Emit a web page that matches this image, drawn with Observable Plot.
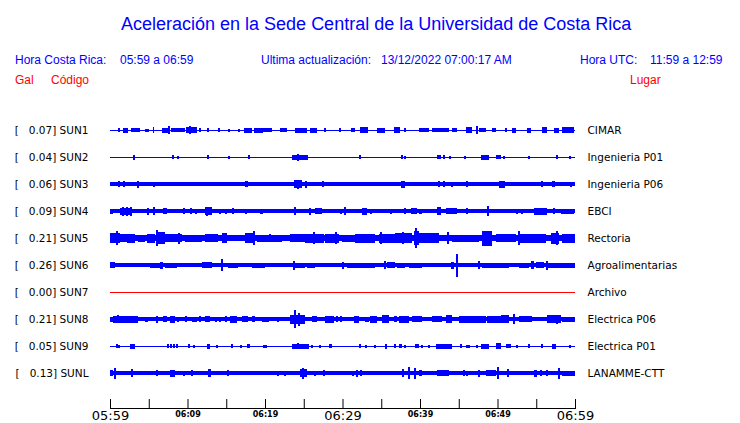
<!DOCTYPE html>
<html><head><meta charset="utf-8">
<script src="https://cdn.jsdelivr.net/npm/d3@7"></script>
<script src="https://cdn.jsdelivr.net/npm/@observablehq/plot@0.6"></script>
<style>
body{margin:0;background:#fff;}
#wrap{position:relative;width:740px;height:423px;overflow:hidden;font-family:"Liberation Sans",Arial,sans-serif;}
.t{position:absolute;white-space:pre;line-height:12px;font-size:12px;}
.blue{color:#0000ff}.red{color:#ff0000}
#chart{position:absolute;left:0;top:99px;}
</style></head><body>
<div id="wrap">
 <div class="t blue" style="top:15px;left:121px;font-size:18px;line-height:18px;">Aceleración en la Sede Central de la Universidad de Costa Rica</div>
 <div class="t blue" style="top:54px;left:15px;">Hora Costa Rica:</div>
 <div class="t blue" style="top:54px;left:120px;">05:59 a 06:59</div>
 <div class="t blue" style="top:54px;left:261px;">Ultima actualización:</div>
 <div class="t blue" style="top:54px;left:381px;">13/12/2022 07:00:17 AM</div>
 <div class="t blue" style="top:54px;left:580px;">Hora UTC:</div>
 <div class="t blue" style="top:54px;left:650px;">11:59 a 12:59</div>
 <div class="t red" style="top:74px;left:15px;">Gal</div>
 <div class="t red" style="top:74px;left:51px;">Código</div>
 <div class="t red" style="top:74px;left:630px;">Lugar</div>
 <div id="chart"></div>
</div>
<script>
// ---- data (minutes after 05:59, amplitudes in Gal) ----
const stations = ["SUN1","SUN2","SUN3","SUN4","SUN5","SUN6","SUN7","SUN8","SUN9","SUNL"];
const peakGal = [0.07,0.04,0.06,0.09,0.21,0.26,0.00,0.21,0.05,0.13];
const places = ["CIMAR","Ingenieria P01","Ingenieria P06","EBCI","Rectoria","Agroalimentarias","Archivo","Electrica P06","Electrica P01","LANAMME-CTT"];
const baseGal = [0.01,0.01,0.04,0.035,0.06,0.035,0,0.045,0.01,0.045];
const traceColor = ["#0000ff","#0000ff","#0000ff","#0000ff","#0000ff","#0000ff","#ff0000","#0000ff","#0000ff","#0000ff"];
const traceSpan = [0, 60];

const tickMinutes = [0,5,10,15,20,25,30,35,40,45,50,55,60];
const majorTicks = [0,30,60];
const majorLabels = ["05:59","06:29","06:59"];
const minorTicks = [10,20,40,50];
const minorLabels = ["06:09","06:19","06:39","06:49"];

// [start minute, end minute, half amplitude Gal]
const sun1Events = [[1.16,1.16,0.04],[1.68,2.32,0.05],[2.71,3.87,0.04],[4.52,4.52,0.03],[4.90,4.90,0.03],[5.55,5.68,0.06],[6.71,7.48,0.05],[7.61,7.61,0.08],[7.87,9.68,0.04],[9.81,11.23,0.06],[10.32,10.32,0.08],[11.48,11.74,0.04],[12.52,12.52,0.04],[13.94,13.94,0.04],[15.23,15.23,0.03],[16.52,16.52,0.03],[17.29,18.32,0.05],[18.58,19.74,0.05],[19.61,20.90,0.04],[21.94,22.84,0.04],[23.87,25.42,0.05],[25.81,26.71,0.05],[27.74,27.74,0.04],[29.55,29.55,0.04],[31.10,31.61,0.04],[32.26,33.29,0.06],[34.45,35.48,0.05],[36.65,37.42,0.06],[37.94,37.94,0.04],[39.87,41.16,0.04],[41.55,43.74,0.04],[44.13,44.77,0.04],[45.94,46.71,0.06],[47.35,47.35,0.08],[47.61,48.52,0.04],[49.29,49.81,0.04],[50.97,51.23,0.04],[51.87,52.39,0.05],[53.81,54.32,0.05],[55.74,56.39,0.06],[57.29,57.94,0.05],[58.32,59.87,0.06]];
const sun2Events = [[2.97,2.97,0.05],[8.0,8.0,0.04],[8.77,8.77,0.03],[12.52,12.52,0.04],[15.35,15.35,0.03],[17.81,17.81,0.04],[23.48,25.55,0.05],[24.13,24.13,0.07],[32.13,32.13,0.04],[37.55,37.55,0.04],[38.06,38.06,0.03],[42.19,42.71,0.04],[42.97,42.97,0.04],[43.87,43.87,0.03],[45.68,45.68,0.03],[47.87,48.90,0.05],[49.81,50.45,0.04],[50.71,50.71,0.03],[54.06,54.06,0.03],[57.55,57.55,0.04],[59.23,59.23,0.03]];
const sun3Events = [[1.16,1.16,0.06],[1.68,1.68,0.06],[3.61,3.61,0.07],[5.55,5.55,0.05],[17.42,17.81,0.06],[23.74,24.77,0.08],[24.13,24.13,0.09],[25.29,25.29,0.07],[27.48,27.48,0.06],[37.55,38.06,0.07],[42.45,42.45,0.06],[42.97,42.97,0.06],[44.0,44.0,0.05],[46.06,46.06,0.06],[50.19,50.97,0.07],[55.74,55.74,0.06],[57.03,57.42,0.06],[59.48,59.48,0.05]];
const sun4Events = [[0,0.39,0.05],[0.65,1.03,0.04],[1.29,2.84,0.07],[1.55,1.55,0.09],[2.1,2.1,0.09],[2.6,2.6,0.09],[3.48,3.48,0.04],[4.13,4.13,0.04],[4.90,4.90,0.07],[5.55,5.81,0.08],[6.84,7.35,0.06],[9.42,9.42,0.06],[10.45,10.45,0.06],[10.97,10.97,0.05],[12.26,13.16,0.08],[12.39,12.39,0.09],[14.19,14.19,0.05],[14.84,14.84,0.05],[15.87,15.87,0.06],[17.42,17.42,0.05],[19.35,19.74,0.05],[20.9,20.9,0.04],[23.87,23.87,0.08],[25.68,25.68,0.07],[26.45,27.35,0.06],[29.68,29.68,0.05],[30.32,30.32,0.08],[32.52,33.16,0.07],[33.55,33.55,0.05],[36.13,36.13,0.05],[37.03,37.03,0.04],[38.06,38.06,0.06],[38.84,39.61,0.06],[39.87,40.26,0.05],[42.19,42.71,0.08],[43.35,44.77,0.06],[46.06,46.06,0.06],[47.23,47.23,0.04],[48.77,48.77,0.10],[50.19,50.19,0.04],[52.39,52.39,0.05],[53.16,53.16,0.05],[54.71,56.39,0.07],[57.29,57.29,0.06],[58.19,59.87,0.05]];
const sun5Events = [[0,1.29,0.10],[0.9,0.9,0.14],[1.29,2.19,0.08],[2.19,3.23,0.09],[3.61,4.52,0.07],[4.77,5.81,0.09],[6.06,6.06,0.16],[6.19,7.10,0.12],[7.10,9.29,0.08],[8.9,8.9,0.11],[9.68,11.87,0.07],[12.26,13.94,0.08],[14.45,15.10,0.10],[17.42,18.45,0.10],[18.58,18.58,0.14],[18.97,20.0,0.07],[19.61,22.19,0.07],[20.52,20.52,0.08],[23.23,25.16,0.08],[25.16,27.61,0.09],[26.32,26.32,0.12],[27.74,29.55,0.09],[29.16,29.16,0.12],[29.94,31.61,0.07],[31.61,34.19,0.09],[34.71,36.77,0.09],[34.84,34.84,0.12],[36.77,38.97,0.10],[37.68,37.68,0.12],[39.23,39.87,0.14],[39.48,39.48,0.20],[39.87,42.45,0.10],[43.48,43.74,0.12],[44.13,47.61,0.07],[48.0,49.29,0.15],[49.81,52.39,0.08],[52.65,52.65,0.14],[52.77,56.26,0.09],[56.9,57.94,0.11],[57.55,57.55,0.14],[58.32,60,0.09]];
const sun6Events = [[0,0.65,0.06],[0.65,1.94,0.04],[2.19,2.19,0.04],[4.52,4.52,0.04],[5.16,6.45,0.05],[6.45,6.84,0.07],[7.10,8.65,0.05],[9.03,9.42,0.04],[11.87,13.16,0.06],[14.45,14.45,0.12],[15.23,16.52,0.05],[16.52,17.81,0.04],[18.32,20.0,0.05],[19.61,21.29,0.04],[21.55,21.94,0.04],[22.58,23.48,0.04],[23.74,23.74,0.09],[23.87,25.16,0.05],[25.42,26.45,0.05],[27.10,27.61,0.04],[29.94,29.94,0.07],[30.58,32.52,0.05],[32.52,34.19,0.05],[34.71,35.35,0.04],[35.48,35.48,0.08],[35.74,36.77,0.06],[37.03,38.06,0.05],[38.58,40.26,0.05],[39.87,41.16,0.04],[41.55,42.06,0.04],[42.45,43.74,0.04],[44.0,44.39,0.07],[44.77,44.77,0.23],[45.42,47.35,0.04],[47.61,47.61,0.08],[48.0,51.48,0.05],[52.77,54.06,0.05],[54.32,54.71,0.08],[54.97,56.0,0.06],[56.26,56.26,0.09],[56.39,60,0.05]];
const sun7Events = [];
const sun8Events = [[0,0.39,0.05],[0.39,3.61,0.07],[1.03,1.03,0.08],[4.52,4.90,0.05],[6.06,6.06,0.07],[6.84,7.35,0.06],[7.74,8.39,0.07],[8.77,8.77,0.05],[9.68,9.68,0.06],[10.58,11.23,0.05],[11.61,11.61,0.06],[12.26,12.90,0.06],[13.55,13.55,0.05],[14.19,14.19,0.05],[14.84,15.10,0.06],[15.48,16.39,0.07],[17.03,17.81,0.06],[18.32,18.71,0.06],[19.61,20.52,0.05],[21.55,21.55,0.05],[23.23,25.16,0.09],[23.87,23.87,0.18],[24.3,24.3,0.13],[26.06,26.71,0.06],[27.74,28.90,0.07],[29.29,29.29,0.06],[29.68,29.68,0.06],[31.48,32.13,0.07],[32.90,33.42,0.05],[33.55,34.45,0.07],[35.10,36.0,0.08],[36.65,37.03,0.06],[37.29,38.58,0.07],[38.97,40.26,0.06],[41.55,42.84,0.06],[43.35,44.13,0.08],[45.03,48.52,0.07],[48.65,50.45,0.07],[50.45,51.48,0.08],[52.0,52.0,0.10],[52.77,54.45,0.06],[56.39,58.19,0.08],[57.55,57.55,0.09],[58.32,60,0.05]];
const sun9Events = [[0.9,0.9,0.04],[1.16,1.16,0.03],[2.58,3.23,0.05],[7.48,7.48,0.04],[7.87,7.87,0.04],[8.13,8.13,0.04],[8.52,8.52,0.04],[10.19,10.19,0.04],[10.71,10.71,0.03],[12.52,12.90,0.05],[13.68,13.68,0.03],[15.61,15.87,0.04],[16.90,16.90,0.03],[17.68,18.06,0.04],[19.87,19.87,0.03],[20.0,20.0,0.03],[23.48,25.68,0.05],[24.13,24.13,0.06],[26.06,26.06,0.03],[26.97,26.97,0.03],[28.26,28.65,0.04],[32.13,32.13,0.04],[33.03,33.03,0.03],[34.19,34.19,0.03],[35.48,35.74,0.05],[36.77,36.77,0.04],[37.29,37.68,0.04],[38.06,38.06,0.03],[39.35,39.87,0.04],[40.13,40.13,0.03],[41.16,41.16,0.03],[42.06,44.13,0.05],[45.29,45.29,0.04],[45.94,45.94,0.03],[46.32,46.32,0.03],[47.35,47.35,0.03],[47.87,48.90,0.05],[49.81,50.45,0.06],[51.10,51.74,0.04],[52.39,52.39,0.03],[54.06,54.06,0.04],[55.74,55.74,0.04],[57.03,57.55,0.05],[59.23,59.23,0.03]];
const sunlEvents = [[0,0.39,0.06],[0.52,0.52,0.11],[2.71,2.71,0.08],[6.06,6.06,0.06],[7.74,8.39,0.07],[9.42,9.42,0.05],[10.58,10.58,0.06],[12.65,13.03,0.08],[15.10,15.10,0.06],[21.55,21.55,0.05],[22.58,22.58,0.05],[24.52,25.42,0.08],[24.90,24.90,0.11],[26.45,26.45,0.05],[27.61,27.61,0.06],[31.35,31.35,0.05],[31.87,31.87,0.07],[32.26,32.26,0.06],[37.68,37.68,0.08],[38.58,38.58,0.12],[39.35,39.35,0.11],[39.87,40.26,0.06],[42.19,43.74,0.06],[45.55,45.55,0.06],[46.06,46.06,0.05],[47.61,47.61,0.07],[48.52,49.81,0.06],[49.94,49.94,0.12],[51.35,51.35,0.08],[54.71,55.10,0.07],[55.61,55.61,0.06],[56.26,56.26,0.06],[57.81,57.81,0.11],[58.32,60,0.05]];

// ---- build ----
const GAP = 0.54; // Gal between trace baselines
const eventLists = [sun1Events,sun2Events,sun3Events,sun4Events,sun5Events,sun6Events,sun7Events,sun8Events,sun9Events,sunlEvents];
const rows = stations.map((s,i)=>({i, s, y: i*GAP, base: baseGal[i], color: traceColor[i], t0: traceSpan[0], t1: traceSpan[1]}));
const leftLabel = stations.map((s,i)=>`[\u00a0\u00a0\u00a0${peakGal[i].toFixed(2)}] ${s}`);
const events = eventLists.flatMap((list,i)=>list.map(([t0,t1,a])=>({i, t0, t1, a, y: i*GAP, color: traceColor[i]})));
const blocks = events.filter(d=>d.t1>d.t0);
const spikes = events.filter(d=>d.t1===d.t0);
const rowOf = y => Math.round(y/GAP);

const chart = Plot.plot({
  width: 740, height: 323,
  marginLeft: 110, marginRight: 165, marginTop: 20, marginBottom: 14,
  x: {domain: traceSpan, label: null},
  y: {domain: [0, 9*GAP], range: [31, 274], label: null},
  color: {type: "identity"},
  style: {fontFamily: "DejaVu Sans", fontSize: "10.5px", color: "black", background: "white", overflow: "visible"},
  marks: [
    Plot.rect(rows, {x1: "t0", x2: "t1", y1: d=>d.y-d.base, y2: d=>d.y+d.base, fill: "color", shapeRendering: "crispEdges"}),
    Plot.ruleY(rows, {y: "y", x1: "t0", x2: "t1", stroke: "color", strokeWidth: 1, shapeRendering: "crispEdges"}),
    Plot.rect(blocks, {x1: "t0", x2: "t1", y1: d=>d.y-d.a, y2: d=>d.y+d.a, fill: "color", shapeRendering: "crispEdges"}),
    Plot.ruleX(spikes, {x: "t0", y1: d=>d.y-d.a, y2: d=>d.y+d.a, stroke: "color", strokeWidth: 2, shapeRendering: "crispEdges"}),
    Plot.axisY(rows.map(d=>d.y), {anchor: "left", tickSize: 0, tickPadding: 22, tickFormat: y=>leftLabel[rowOf(y)], label: null}),
    Plot.axisY(rows.map(d=>d.y), {anchor: "right", tickSize: 0, tickPadding: 12, tickFormat: y=>places[rowOf(y)], label: null}),
    Plot.frame({anchor: "bottom"}),
    Plot.axisX(tickMinutes, {tickSize: -9, tickFormat: ()=>"", label: null}),
    Plot.axisX(majorTicks, {tickSize: 0, tickPadding: 2, fontSize: 13, tickFormat: m=>majorLabels[majorTicks.indexOf(m)], label: null}),
    Plot.axisX(minorTicks, {tickSize: 0, tickPadding: 3, fontSize: 8, fontWeight: "bold", tickFormat: m=>minorLabels[minorTicks.indexOf(m)], label: null})
  ]
});
document.getElementById("chart").appendChild(chart);
</script>
</body></html>
